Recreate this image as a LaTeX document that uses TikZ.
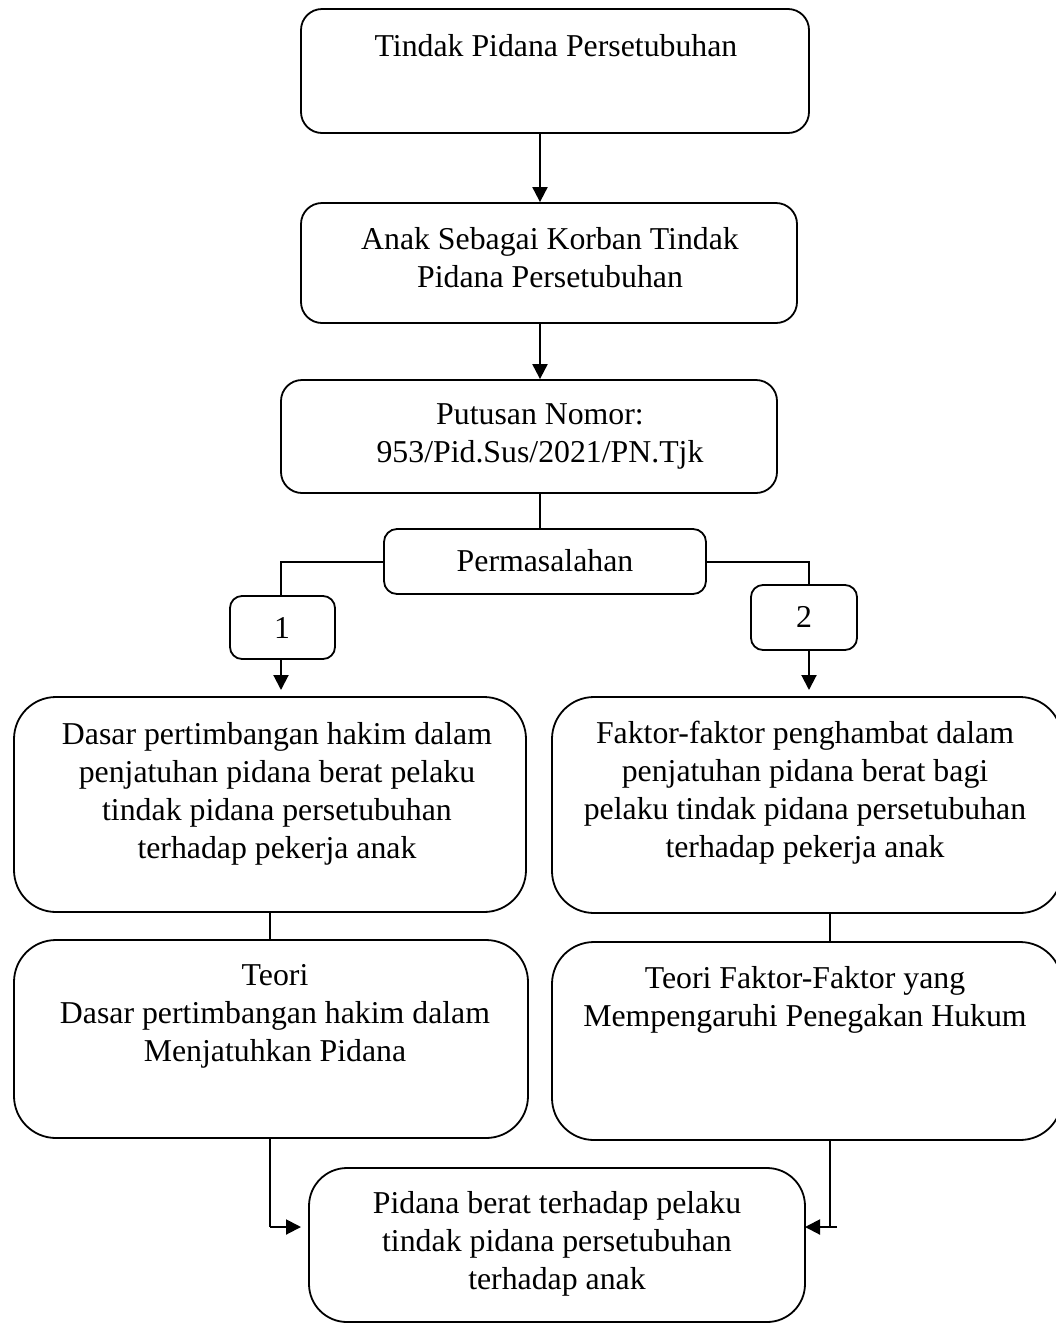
\documentclass[tikz,border=0pt]{standalone}
\usepackage{fontspec}
\setmainfont{Liberation Serif}
\usetikzlibrary{arrows.meta}
\begin{document}
\begin{tikzpicture}[x=1pt,y=-1pt,
  box/.style={draw, line width=1.8pt, rectangle, inner sep=0pt},
  txt/.style={inner sep=0pt, align=center, font=\fontsize{31.8}{38}\selectfont},
  conn/.style={line width=1.8pt},
  arr/.style={line width=2pt, -{Triangle[length=15pt,width=15pt]}}]
\useasboundingbox (0,0) rectangle (1056,1326);
% boxes
\node[box, rounded corners=21pt, minimum width=508pt, minimum height=124pt] (b1) at (555,71) {};
\node[box, rounded corners=21pt, minimum width=496pt, minimum height=120pt] (b2) at (549,263) {};
\node[box, rounded corners=21pt, minimum width=496pt, minimum height=113pt] (b3) at (529,436.5) {};
\node[box, rounded corners=13pt, minimum width=322pt, minimum height=65pt] (pm) at (545,561.5) {};
\node[box, rounded corners=12pt, minimum width=105pt, minimum height=63pt] (n1) at (282.5,627.5) {};
\node[box, rounded corners=12pt, minimum width=106pt, minimum height=65pt] (n2) at (804,617.5) {};
\node[box, rounded corners=42pt, minimum width=512pt, minimum height=215pt] (l1) at (270,804.5) {};
\node[box, rounded corners=42pt, minimum width=510pt, minimum height=216pt] (r1) at (807,805) {};
\node[box, rounded corners=42pt, minimum width=514pt, minimum height=198pt] (l2) at (271,1039) {};
\node[box, rounded corners=42pt, minimum width=510pt, minimum height=198pt] (r2) at (807,1041) {};
\node[box, rounded corners=38pt, minimum width=496pt, minimum height=154pt] (bx) at (557,1245) {};
% texts
\node[txt] (t1) at (556,46) {Tindak Pidana Persetubuhan};
\node[txt] (t2) at (550,258) {Anak Sebagai Korban Tindak\\Pidana Persetubuhan};
\node[txt] (t3) at (540,436) {Putusan Nomor:\\953/Pid.Sus/2021/PN.Tjk};
\node[txt] (tpm) at (545,561) {Permasalahan};
\node[txt] (tn1) at (282,628) {1};
\node[txt] (tn2) at (804,617) {2};
\node[txt] (tl1) at (277,793.5) {Dasar pertimbangan hakim dalam\\penjatuhan pidana berat pelaku\\tindak pidana persetubuhan\\terhadap pekerja anak};
\node[txt] (tr1) at (805,793) {Faktor-faktor penghambat dalam\\penjatuhan pidana berat bagi\\pelaku tindak pidana persetubuhan\\terhadap pekerja anak};
\node[txt] (tl2) at (275,1016.5) {Teori\\Dasar pertimbangan hakim dalam\\Menjatuhkan Pidana};
\node[txt] (tr2) at (805,1000) {Teori Faktor-Faktor yang\\Mempengaruhi Penegakan Hukum};
\node[txt] (tbx) at (557,1244) {Pidana berat terhadap pelaku\\tindak pidana persetubuhan\\terhadap anak};
% helper coordinates
\coordinate (ax) at (540,0);
\coordinate (lx) at (281,562);
\coordinate (rx) at (809,562);
\coordinate (a1) at (281,690);
\coordinate (a2) at (809,690);
\coordinate (cl) at (270,0);
\coordinate (cr) at (830,0);
\coordinate (lb) at (270,1227);
\coordinate (rb) at (830,1227);
\coordinate (rt) at (837,1227);
\coordinate (lt) at (301,1227);
\coordinate (rtip) at (805,1227);
% connectors
\draw[arr] (b1.south -| ax) -- (b2.north -| ax);
\draw[arr] (b2.south -| ax) -- (b3.north -| ax);
\draw[conn] (b3.south -| ax) -- (pm.north -| ax);
\draw[conn] (pm.west |- lx) -- (lx) -- (n1.north -| lx);
\draw[conn] (pm.east |- rx) -- (rx) -- (n2.north -| rx);
\draw[arr] (n1.south -| a1) -- (a1);
\draw[arr] (n2.south -| a2) -- (a2);
\draw[conn] (l1.south -| cl) -- (l2.north -| cl);
\draw[conn] (r1.south -| cr) -- (r2.north -| cr);
\draw[conn] (l2.south -| cl) -- (lb);
\draw[arr] (lb) -- (lt);
\draw[conn] (r2.south -| cr) -- (rb);
\draw[arr] (rt) -- (rtip);
\end{tikzpicture}
\end{document}
